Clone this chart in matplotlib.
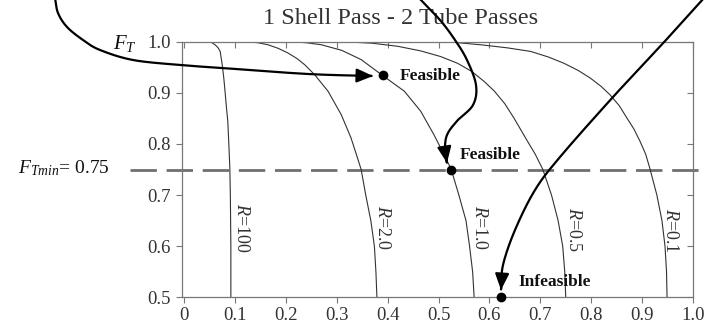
import numpy as np
import matplotlib
matplotlib.use("Agg")
import matplotlib.pyplot as plt
from matplotlib.patches import FancyArrowPatch
from matplotlib.path import Path

plt.rcParams['font.family'] = ['Liberation Serif', 'DejaVu Serif']
plt.rcParams['mathtext.fontset'] = 'custom'
plt.rcParams['mathtext.rm'] = 'Liberation Serif'
plt.rcParams['mathtext.it'] = 'Liberation Serif:italic'
plt.rcParams['mathtext.bf'] = 'Liberation Serif:bold'

# ---- data ----
r_labels = ["R=100", "R=2.0", "R=1.0", "R=0.5", "R=0.1"]
x_r100 = [0.045, 0.053, 0.061, 0.067, 0.071, 0.075, 0.078, 0.080, 0.083, 0.086, 0.088, 0.090, 0.091, 0.092, 0.092]
y_r100 = [1.000, 0.999, 0.994, 0.988, 0.981, 0.955, 0.930, 0.909, 0.875, 0.844, 0.800, 0.753, 0.700, 0.600, 0.500]
x_r2 = [0.120, 0.145, 0.165, 0.185, 0.204, 0.222, 0.237, 0.257, 0.283, 0.309, 0.328, 0.341, 0.348,
        0.357, 0.367, 0.374, 0.377, 0.379]
y_r2 = [1.000, 0.998, 0.994, 0.987, 0.978, 0.967, 0.955, 0.935, 0.903, 0.857, 0.812, 0.772, 0.750,
        0.700, 0.650, 0.600, 0.550, 0.500]
x_r1 = [0.204, 0.240, 0.270, 0.310, 0.348, 0.390, 0.433, 0.465, 0.491, 0.511, 0.525, 0.540, 0.554,
        0.561, 0.567, 0.570]
y_r1 = [1.000, 0.998, 0.994, 0.983, 0.965, 0.934, 0.903, 0.864, 0.818, 0.779, 0.750, 0.700, 0.650,
        0.600, 0.550, 0.500]
x_r05 = [0.312, 0.370, 0.420, 0.465, 0.504, 0.537, 0.565, 0.590, 0.610, 0.630, 0.648, 0.672, 0.690,
         0.705, 0.722, 0.735, 0.744, 0.748, 0.750]
y_r05 = [1.000, 0.997, 0.991, 0.982, 0.971, 0.958, 0.942, 0.922, 0.903, 0.879, 0.851, 0.810, 0.780,
         0.750, 0.700, 0.650, 0.600, 0.550, 0.500]
x_r01 = [0.516, 0.583, 0.635, 0.681, 0.716, 0.746, 0.774, 0.798, 0.819, 0.837, 0.855, 0.870, 0.884,
         0.896, 0.907, 0.915, 0.929, 0.939, 0.945, 0.948, 0.949]
y_r01 = [1.000, 0.994, 0.988, 0.981, 0.970, 0.958, 0.944, 0.929, 0.913, 0.896, 0.875, 0.851, 0.829,
         0.805, 0.780, 0.753, 0.700, 0.650, 0.600, 0.550, 0.500]
curves_x = [x_r100, x_r2, x_r1, x_r05, x_r01]
curves_y = [y_r100, y_r2, y_r1, y_r05, y_r01]

ft_min = 0.75
point_labels = ["Feasible", "Feasible", "Infeasible"]
point_x = [0.390, 0.525, 0.623]
point_y = [0.935, 0.750, 0.500]

x_ticks = [0, 0.1, 0.2, 0.3, 0.4, 0.5, 0.6, 0.7, 0.8, 0.9, 1.0]
x_ticklabels = ["0", "0.1", "0.2", "0.3", "0.4", "0.5", "0.6", "0.7", "0.8", "0.9", "1.0"]
y_ticks = [0.5, 0.6, 0.7, 0.8, 0.9, 1.0]
y_ticklabels = ["0.5", "0.6", "0.7", "0.8", "0.9", "1.0"]

W, H = 706, 331
fig = plt.figure(figsize=(W / 100, H / 100), dpi=100)
ax = fig.add_axes([182 / W, 1 - 297.3 / H, (693 - 182) / W, (297.3 - 41.7) / H])

TXT = '#333333'
SP = '#777777'

for xs, ys in zip(curves_x, curves_y):
    ax.plot(xs, ys, color='#333333', lw=0.8, solid_joinstyle='round')

ax.set_xlim(-0.004, 1.0)
ax.set_ylim(0.5, 1.0)
ax.set_xticks(x_ticks)
ax.set_xticklabels(x_ticklabels)
ax.set_yticks(y_ticks)
ax.set_yticklabels(y_ticklabels)
ax.tick_params(direction='out', length=4, width=0.8, color=SP, labelcolor=TXT,
               labelsize=13.5, pad=3)
ax.yaxis.set_tick_params(pad=4)
for s in ax.spines.values():
    s.set_color(SP)
    s.set_linewidth(0.9)

# inward ticks on top and right
ax_t = ax.secondary_xaxis('top')
ax_t.set_xticks(x_ticks)
ax_t.tick_params(direction='in', length=4, width=0.8, color=SP, labeltop=False)
ax_t.spines['top'].set_visible(False)
ax_r = ax.secondary_yaxis('right')
ax_r.set_yticks(y_ticks)
ax_r.tick_params(direction='in', length=4, width=0.8, color=SP, labelright=False)
ax_r.spines['right'].set_visible(False)
ax_t.set_xticklabels([])
ax_r.set_yticklabels([])

# F_Tmin dashed line extending beyond axes
ax.axhline(ft_min, xmin=-0.102, xmax=1.03, color='#707070', lw=2.0,
           dashes=(9.5, 3.5), clip_on=False, zorder=1)

# R labels (rotated)
r_label_pos = [(241.7, 228), (382.3, 227), (479, 227), (573.7, 230), (671, 230.5)]
for lab, (px, py) in zip(r_labels, r_label_pos):
    fig.text(px / W, 1 - py / H, r'$R$' + lab[1:], rotation=270, ha='center', va='center',
             fontsize=13, color=TXT)

# points and labels
ax.plot(point_x, point_y, 'o', color='black', ms=6, clip_on=False, zorder=5)
lab_pos = [(400, 76), (460, 155), (518, 282)]
for lab, (px, py) in zip(point_labels, lab_pos):
    fig.text(px / W, 1 - py / H, lab, ha='left', va='center', fontsize=12.5,
             fontweight='bold', color='#111111')

# texts
fig.text(401 / W, 1 - 18.5 / H, "1 Shell Pass - 2 Tube Passes", ha='center', va='center',
         fontsize=17.5, color=TXT)
fig.text(113 / W, 1 - 43 / H, r"$F_T$", ha='left', va='center', fontsize=15, color='#111111')
fig.text(18 / W, 1 - 168 / H, r"$F_{Tmin}$= 0.75", ha='left', va='center', fontsize=14,
         color='#111111')


# decorative arrows (figure pixel coordinates)
def smooth(pts):
    pts = np.asarray(pts, float)
    P = np.vstack([pts[0], pts, pts[-1]])
    out = []
    for i in range(1, len(P) - 2):
        p0, p1, p2, p3 = P[i - 1], P[i], P[i + 1], P[i + 2]
        t = np.linspace(0, 1, 25, endpoint=False)[:, None]
        seg = 0.5 * ((2 * p1) + (-p0 + p2) * t + (2 * p0 - 5 * p1 + 4 * p2 - p3) * t ** 2
                     + (-p0 + 3 * p1 - 3 * p2 + p3) * t ** 3)
        out.append(seg)
    out.append(pts[-1][None, :])
    return np.vstack(out)


def arrow(pts):
    v = smooth(pts)
    v = np.column_stack([v[:, 0] / W, 1 - v[:, 1] / H])
    path = Path(v)
    a = FancyArrowPatch(path=path, arrowstyle='-|>,head_length=0.7,head_width=0.3',
                        mutation_scale=14, lw=1.6, color='black',
                        transform=fig.transFigure, zorder=6)
    fig.patches.append(a)


arrow([(55, -2), (58, 13), (67, 27), (83, 40), (100, 50), (133, 60), (180, 65), (222, 68),
       (308, 74), (373, 76)])
arrow([(419, -2), (440, 20), (455, 40), (467, 60), (476, 85), (473, 105), (457, 121), (447, 135),
       (445, 150), (447, 163)])
arrow([(704, -2), (666, 40), (613, 97), (560, 157), (535, 190), (515, 230), (503, 265), (501, 290)])

fig.savefig("out.png", dpi=100)
